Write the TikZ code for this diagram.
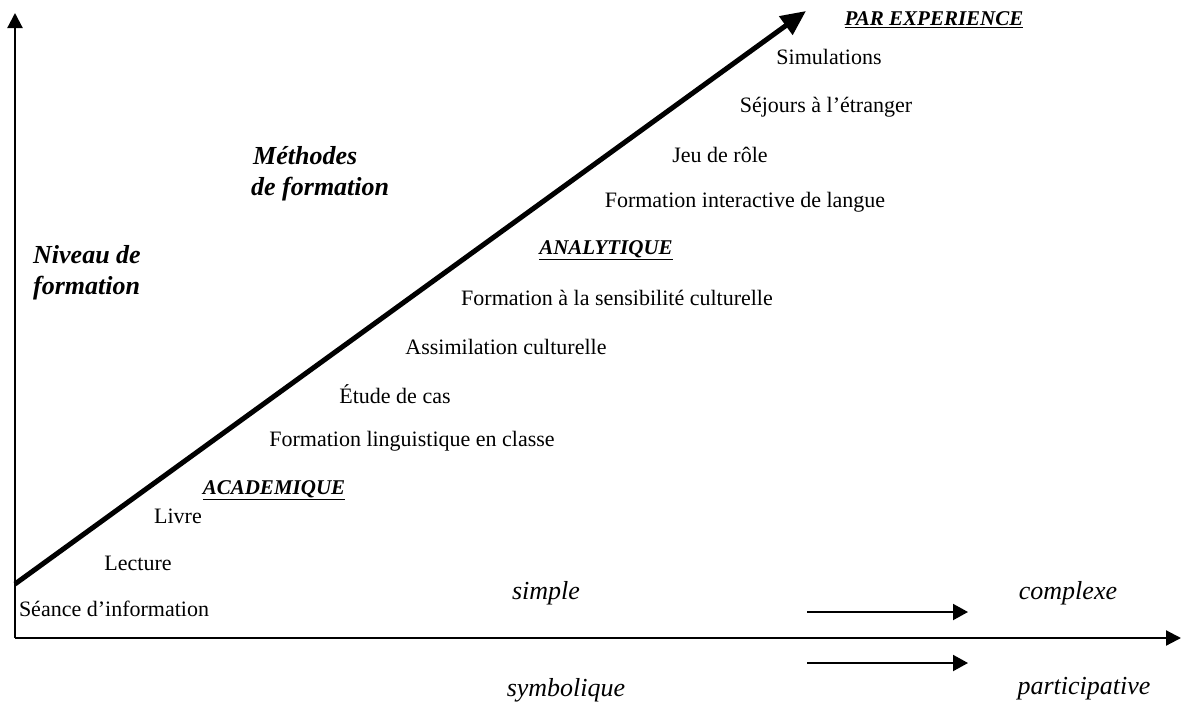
\documentclass[tikz,border=0pt]{standalone}
\usepackage{fontspec}
\setmainfont{Liberation Serif}
\usetikzlibrary{arrows.meta,positioning}
\tikzset{
  axe/.style={-{Triangle[length=15pt,width=15pt]}, line width=2.2pt},
  diag/.style={-{Triangle[length=25pt,width=22pt]}, line width=5pt},
  fl/.style={-{Triangle[length=15pt,width=16pt]}, line width=2pt},
  meth/.style={font=\fontsize{22}{24}\selectfont, inner sep=0pt},
  cat/.style={font=\fontsize{21}{24}\selectfont\bfseries\itshape, inner sep=0pt},
  ttl/.style={font=\fontsize{26}{31}\selectfont\bfseries\itshape, inner sep=0pt, align=left, anchor=west},
  ech/.style={font=\fontsize{26}{28}\selectfont\itshape, inner sep=0pt},
}

\begin{document}
\begin{tikzpicture}[x=1pt,y=-1pt]
  \useasboundingbox (0,0) rectangle (1181,704);
  % axes
  \coordinate (orig) at (15,638);
  \coordinate (ytop) at (15,13);
  \coordinate (xend) at (1181,638);
  \draw[axe] (orig) -- (ytop);
  \draw[axe] (orig) -- (xend);
  % methods arrow
  \coordinate (dbas) at (15,584);
  \coordinate (dhaut) at (806,11);
  \draw[diag] (dbas) -- (dhaut);
  % titles
  \node[ttl] (niveau) at (33,273) {Niveau de\\formation};
  \node[ttl] (methodes) at (251,174) {\hspace*{2pt}Méthodes\\de formation};
  % categories
  \node[cat] (exper) at (934,20) {\underline{PAR EXPERIENCE}};
  \node[cat] (analyt) at (606,250) {\underline{ANALYTIQUE}};
  \node[cat] (acad) at (274,490) {\underline{ACADEMIQUE}};
  % methods
  \foreach \nm/\x/\y/\txt in {simu/829/57/{Simulations},
                              sejour/826/107/{Séjours à l’étranger},
                              jeu/720/155/{Jeu de rôle},
                              inter/745/202/{Formation interactive de langue},
                              sensib/617/298/{Formation à la sensibilité culturelle},
                              assim/506/347/{Assimilation culturelle},
                              etude/395/394/{Étude de cas},
                              ling/412/441/{Formation linguistique en classe},
                              livre/178/516/{Livre},
                              lect/138/563/{Lecture},
                              seance/114/609/{Séance d’information}}{
    \node[meth] (\nm) at (\x,\y) {\txt};}
  % scale
  \node[ech] (simple) at (546,593) {simple};
  \node[ech] (complexe) at (1068,593) {complexe};
  \node[ech] (symb) at (566,690) {symbolique};
  \node[ech] (partic) at (1084,689) {participative};
  \coordinate (f1a) at (807,612);
  \coordinate (f1b) at (968,612);
  \coordinate (f2a) at (807,663);
  \coordinate (f2b) at (968,663);
  \draw[fl] (f1a) -- (f1b);
  \draw[fl] (f2a) -- (f2b);
\end{tikzpicture}
\end{document}
